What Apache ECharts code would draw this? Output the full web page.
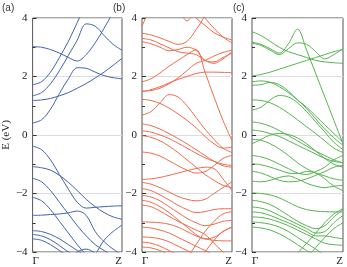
<!DOCTYPE html>
<html><head><meta charset="utf-8">
<script src="https://cdn.jsdelivr.net/npm/echarts@6/dist/echarts.min.js"></script>
<style>html,body{margin:0;padding:0;background:#fff}#c{width:347px;height:267px}</style>
</head><body><div id="c"></div>
<script>
// k-path sample positions (fraction of Γ→Z)
const kx = [0,0.1,0.2,0.3,0.4,0.5,0.6,0.7,0.8,0.9,1.0];
const kLabels = ['Γ','Z'];
const panelLabels = ['(a)','(b)','(c)'];
const yTicks = [-4,-2,0,2,4];

// Panel (a) bands, energies in eV at kx
const bandsA = [
  [0.41,0.52,0.88,1.42,1.92,2.3,2.28,2.15,2.03,1.96,1.92],
  [1.72,1.82,2.15,2.65,3.2,3.85,4.5,5,5,5,5],
  [1.34,1.45,1.75,2.2,2.72,3.25,3.8,3.72,3.4,3.1,2.9],
  [3.02,3.0,2.92,2.8,2.65,2.53,2.75,3.15,3.65,4.2,4.8],
  [1.18,1.2,1.25,1.34,1.45,1.6,1.76,1.95,2.15,2.38,2.62],
  [-0.38,-0.5,-0.85,-1.35,-1.85,-2.3,-2.5,-2.47,-2.45,-2.43,-2.42],
  [-1.08,-1.12,-1.2,-1.38,-1.62,-1.9,-2.2,-2.45,-2.65,-2.8,-2.88],
  [-1.48,-1.6,-1.9,-2.3,-2.7,-3.1,-3.45,-3.75,-3.95,-4.15,-4.3],
  [-2.13,-2.25,-2.55,-2.95,-3.35,-3.75,-4.1,-4.4,-4.6,-4.8,-5],
  [-2.75,-2.74,-2.72,-2.7,-2.66,-2.6,-2.75,-3.3,-3.65,-3.9,-4.1],
  [-5,-5,-5,-5,-5,-5,-4.6,-4.1,-3.6,-3.3,-3.08],
  [-3.27,-3.3,-3.4,-3.55,-3.75,-3.95,-4.15,-4.4,-4.6,-4.8,-5],
  [-3.4,-3.45,-3.58,-3.78,-4.0,-4.2,-4.4,-4.6,-4.8,-5,-5],
  [-3.55,-3.6,-3.75,-3.95,-4.15,-4.35,-4.6,-4.8,-5,-5,-5],
  [-5,-5,-5,-4.8,-4.3,-4.0,-3.9,-4.05,-4.3,-4.6,-5]
];

// Panel (b) bands
const bandsB = [
  [3.72,4.4,5,5,5,5,5,5,5,5,5],
  [3.48,3.42,3.32,3.2,3.1,3.2,3.6,4.1,5,5,5],
  [5,5,5,5,5,4.4,4.0,3.75,3.5,3.35,3.25],
  [5,5,5,5,5,5,4.5,4.0,3.65,3.35,3.15],
  [5,5,5,5,4.4,3.9,4.4,5,5,5,5],
  [3.3,3.25,3.12,2.98,2.85,2.8,2.75,2.55,2.45,2.6,2.85],
  [3.19,3.12,3.0,2.88,2.92,3.0,2.9,2.55,2.5,2.65,2.8],
  [1.82,1.92,2.12,2.35,2.55,2.75,2.92,2.15,1.3,0.5,-0.2],
  [1.48,1.55,1.65,1.78,1.9,2.0,2.1,2.15,2.15,2.14,2.13],
  [1.5,1.52,1.6,1.75,1.95,2.2,2.45,2.55,2.7,2.82,2.9],
  [0.68,0.8,1.1,1.38,1.3,1.0,0.6,0.2,-0.15,-0.45,-0.6],
  [1.22,1.18,1.08,0.92,0.72,0.5,0.25,-0.05,-0.3,-0.45,-0.41],
  [0.38,0.32,0.2,0.05,-0.12,-0.3,-0.5,-0.7,-0.9,-1.05,-1.1],
  [0.14,0.1,0.0,-0.12,-0.28,-0.45,-0.62,-0.78,-0.9,-1.0,-1.04],
  [-0.02,-0.08,-0.2,-0.38,-0.6,-0.85,-1.1,-1.35,-1.55,-1.72,-1.8],
  [-0.58,-0.62,-0.72,-0.88,-1.05,-1.2,-1.3,-1.25,-1.05,-0.8,-0.7],
  [-1.52,-1.5,-1.45,-1.38,-1.3,-1.22,-1.15,-1.1,-1.15,-1.5,-1.9],
  [-1.62,-1.68,-1.8,-1.95,-2.1,-2.2,-2.25,-2.2,-2.0,-1.8,-1.6],
  [-1.83,-1.9,-2.05,-2.22,-2.4,-2.55,-2.65,-2.62,-2.55,-2.52,-2.52],
  [-2.06,-2.12,-2.25,-2.45,-2.65,-2.85,-3.0,-3.1,-3.05,-2.95,-2.92],
  [-2.23,-2.3,-2.45,-2.65,-2.9,-3.15,-3.4,-3.55,-3.5,-3.3,-3.15],
  [-2.4,-2.45,-2.6,-2.78,-2.95,-3.1,-3.25,-3.4,-3.7,-4.0,-4.2],
  [-2.97,-2.98,-3.0,-3.05,-3.15,-3.3,-3.45,-3.55,-3.6,-3.62,-3.62],
  [-3.15,-3.18,-3.25,-3.35,-3.5,-3.65,-3.8,-3.95,-4.1,-4.2,-4.25],
  [-3.49,-3.5,-3.55,-3.65,-3.8,-3.95,-4.1,-4.3,-4.5,-4.7,-4.9],
  [-3.66,-3.7,-3.8,-3.95,-4.1,-4.3,-4.5,-4.7,-4.9,-5,-5],
  [-3.83,-3.86,-3.95,-4.1,-4.3,-4.5,-4.7,-4.9,-5,-5,-5],
  [-5,-5,-5,-5,-4.6,-4.2,-3.75,-3.3,-2.95,-2.7,-2.62],
  [-5,-5,-5,-5,-5,-4.8,-4.4,-4.0,-3.6,-3.3,-3.15]
];

// Panel (c) bands
const bandsC = [
  [3.53,3.4,3.2,3.0,2.85,2.75,2.65,2.55,2.5,2.47,2.45],
  [3.17,3.1,2.95,2.8,3.12,3.62,2.9,2.1,1.3,0.5,-0.3],
  [3.14,3.06,2.9,2.75,2.95,3.15,3.1,2.85,2.6,2.75,2.95],
  [2.02,2.07,2.15,2.25,2.35,2.45,2.55,2.65,2.75,2.85,2.92],
  [1.82,1.85,1.8,1.65,1.45,1.2,0.95,0.65,0.35,0.05,-0.25],
  [1.7,1.72,1.8,1.72,1.5,1.2,0.9,0.55,0.2,-0.1,-0.35],
  [1.2,1.18,1.1,0.95,0.75,0.52,0.28,0.05,-0.2,-0.45,-0.6],
  [0.85,0.95,1.2,1.35,1.3,1.1,0.8,0.45,0.1,-0.25,-0.5],
  [0.45,0.4,0.3,0.15,-0.02,-0.2,-0.38,-0.55,-0.7,-0.85,-0.95],
  [0.17,0.13,0.05,-0.05,-0.2,-0.35,-0.5,-0.65,-0.8,-0.9,-0.95],
  [-0.3,-0.15,0.0,0.05,0.02,-0.1,-0.3,-0.55,-0.8,-1.0,-1.1],
  [-0.15,-0.18,-0.3,-0.48,-0.7,-0.95,-1.15,-1.3,-1.4,-1.5,-1.55],
  [-0.7,-0.75,-0.85,-1.0,-1.15,-1.3,-1.35,-1.25,-1.1,-0.85,-0.7],
  [-0.98,-1.02,-1.1,-1.2,-1.3,-1.32,-1.25,-1.3,-1.5,-1.75,-1.9],
  [-1.24,-1.3,-1.42,-1.55,-1.6,-1.58,-1.5,-1.38,-1.25,-1.1,-1.04],
  [-1.58,-1.6,-1.55,-1.45,-1.4,-1.5,-1.65,-1.75,-1.8,-1.75,-1.72],
  [-1.98,-2.0,-2.05,-2.15,-2.3,-2.45,-2.55,-2.6,-2.62,-2.63,-2.63],
  [-2.23,-2.28,-2.38,-2.55,-2.75,-2.95,-3.1,-3.2,-3.1,-2.8,-2.55],
  [-2.46,-2.5,-2.6,-2.75,-2.9,-3.05,-3.2,-3.35,-3.3,-3.0,-2.75],
  [-2.63,-2.66,-2.75,-2.88,-3.0,-3.15,-3.3,-3.45,-3.45,-3.5,-3.55],
  [-2.8,-2.82,-2.88,-2.98,-3.1,-3.25,-3.4,-3.55,-3.7,-3.75,-3.77],
  [-2.97,-3.0,-3.05,-3.15,-3.3,-3.5,-3.7,-3.9,-4.1,-4.2,-4.3],
  [-3.15,-3.18,-3.25,-3.38,-3.55,-3.75,-3.95,-4.15,-4.35,-4.5,-4.6],
  [-5,-5,-5,-5,-4.4,-4.05,-3.7,-3.35,-3.0,-2.7,-2.52],
  [-5,-5,-5,-5,-5,-4.5,-4.2,-3.85,-3.5,-3.2,-3.0]
];

const panelBands = [bandsA, bandsB, bandsC];
const panelColors = ['#3f63ad', '#ef6a4c', '#55b24f'];
const gridLefts = [31, 142, 252];
const gridWidths = [91, 90, 91];

const chart = echarts.init(document.getElementById('c'), null, {renderer:'canvas'});
const serif = 'Liberation Serif';
const grids = [], xAxes = [], yAxes = [], series = [], graphics = [];
for (let p = 0; p < 3; p++) {
  grids.push({left: gridLefts[p], top: 18, width: gridWidths[p], height: 234,
    show: true, borderColor: '#555', borderWidth: 1, backgroundColor: 'transparent'});
  xAxes.push({type: 'value', gridIndex: p, min: 0, max: 1, interval: 1,
    axisLine: {show: false}, axisTick: {show: false}, splitLine: {show: false},
    axisLabel: {fontFamily: serif, fontSize: 11, color: '#222', margin: 4,
      alignMinLabel: 'left', alignMaxLabel: 'right',
      formatter: v => v === 0 ? kLabels[0] : (v === 1 ? kLabels[1] : '')}});
  yAxes.push({type: 'value', gridIndex: p, min: yTicks[0], max: yTicks[yTicks.length-1], interval: 2,
    name: p === 0 ? 'E (eV)' : '', nameLocation: 'middle', nameGap: 18,
    nameTextStyle: {fontFamily: serif, fontSize: 11, color: '#222'},
    axisLine: {show: false},
    axisTick: {show: true, inside: true, length: 4, lineStyle: {color: '#333', width: 1}},
    minorTick: {show: true, splitNumber: 2, length: 3, lineStyle: {color: '#333', width: 1}},
    splitLine: {show: true, lineStyle: {color: '#ddd', width: 1}},
    axisLabel: {fontFamily: serif, fontSize: 11, color: '#222', margin: 5,
      formatter: v => String(v).replace('-', '\u2212')}});
  panelBands[p].forEach(b => {
    series.push({type: 'line', xAxisIndex: p, yAxisIndex: p, smooth: 0.35,
      showSymbol: false, symbol: 'none', clip: true, silent: true,
      lineStyle: {color: panelColors[p], width: 1}, itemStyle: {color: panelColors[p]},
      data: kx.map((x, j) => [x, b[j]])});
  });
  graphics.push({type: 'text', left: [2, 113, 233][p], top: 3,
    style: {text: panelLabels[p], font: '10px "Liberation Sans"', fill: '#333'}});
}
chart.setOption({animation: false, grid: grids, xAxis: xAxes, yAxis: yAxes, series: series, graphic: graphics});
</script></body></html>
